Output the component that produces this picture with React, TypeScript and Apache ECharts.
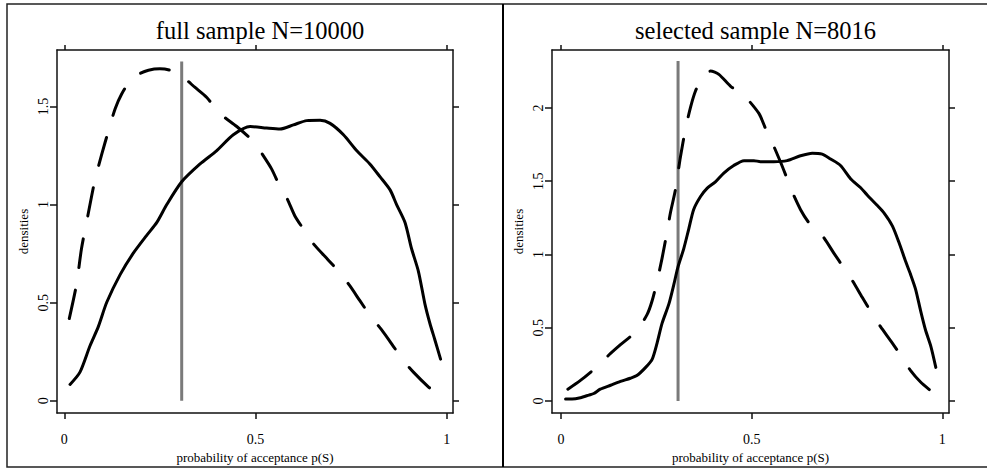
import React, { useEffect, useRef } from "react";
import * as echarts from "echarts";

const titles = ["full sample N=10000", "selected sample N=8016"];
const xTicks = [0, 0.5, 1];
const yTicksLeft = [0, 0.5, 1, 1.5];
const yTicksRight = [0, 0.5, 1, 1.5, 2];
const cutoff = 0.307;
const cutoffTop = [1.73, 2.32];

const fullSolid: number[][] = [
  [0.015, 0.083], [0.041, 0.146], [0.067, 0.279], [0.089, 0.378], [0.111, 0.502],
  [0.146, 0.643], [0.18, 0.751], [0.215, 0.842], [0.242, 0.909], [0.268, 1.0],
  [0.307, 1.116], [0.355, 1.207], [0.398, 1.274], [0.442, 1.356], [0.486, 1.398],
  [0.529, 1.39], [0.564, 1.385], [0.599, 1.406], [0.634, 1.428], [0.669, 1.43],
  [0.695, 1.414], [0.73, 1.356], [0.765, 1.274], [0.799, 1.207], [0.826, 1.141],
  [0.852, 1.075], [0.869, 1.0], [0.891, 0.909], [0.908, 0.776], [0.926, 0.66],
  [0.943, 0.494], [0.956, 0.395], [0.969, 0.311], [0.984, 0.212],
];

const fullDashed: number[][] = [
  [0.013, 0.419], [0.032, 0.594], [0.045, 0.776], [0.063, 0.958], [0.08, 1.124],
  [0.098, 1.257], [0.115, 1.373], [0.133, 1.489], [0.15, 1.564], [0.172, 1.63],
  [0.198, 1.668], [0.22, 1.685], [0.25, 1.692], [0.276, 1.685], [0.307, 1.655],
  [0.342, 1.597], [0.372, 1.547], [0.407, 1.464], [0.451, 1.398], [0.494, 1.323],
  [0.512, 1.274], [0.542, 1.182], [0.564, 1.091], [0.582, 1.033], [0.603, 0.942],
  [0.625, 0.876], [0.651, 0.801], [0.69, 0.718], [0.721, 0.652], [0.747, 0.585],
  [0.773, 0.51], [0.799, 0.436], [0.83, 0.361], [0.86, 0.279], [0.887, 0.204],
  [0.913, 0.146], [0.952, 0.071], [0.974, 0.038],
];

const selSolid: number[][] = [
  [0.012, 0.013], [0.029, 0.013], [0.051, 0.022], [0.073, 0.04], [0.086, 0.051],
  [0.103, 0.08], [0.13, 0.107], [0.156, 0.133], [0.182, 0.155], [0.199, 0.173],
  [0.222, 0.229], [0.239, 0.284], [0.252, 0.395], [0.265, 0.529], [0.283, 0.662],
  [0.296, 0.795], [0.306, 0.907], [0.322, 1.04], [0.335, 1.173], [0.348, 1.307],
  [0.366, 1.395], [0.383, 1.451], [0.405, 1.495], [0.427, 1.555], [0.453, 1.607],
  [0.48, 1.64], [0.506, 1.64], [0.523, 1.633], [0.558, 1.633], [0.593, 1.64],
  [0.628, 1.673], [0.659, 1.691], [0.685, 1.684], [0.707, 1.651], [0.733, 1.607],
  [0.76, 1.515], [0.786, 1.455], [0.803, 1.405], [0.829, 1.335], [0.847, 1.284],
  [0.869, 1.195], [0.886, 1.084], [0.904, 0.951], [0.917, 0.862], [0.93, 0.762],
  [0.943, 0.617], [0.956, 0.484], [0.97, 0.373], [0.983, 0.229],
];

const selDashed: number[][] = [
  [0.018, 0.08], [0.051, 0.14], [0.09, 0.224], [0.13, 0.324], [0.156, 0.384],
  [0.198, 0.477], [0.226, 0.591], [0.239, 0.684], [0.252, 0.817], [0.265, 0.973],
  [0.278, 1.151], [0.287, 1.284], [0.3, 1.44], [0.313, 1.662], [0.327, 1.862],
  [0.34, 2.007], [0.353, 2.117], [0.373, 2.217], [0.392, 2.251], [0.414, 2.229],
  [0.445, 2.147], [0.48, 2.084], [0.519, 1.962], [0.536, 1.862], [0.554, 1.762],
  [0.576, 1.629], [0.593, 1.517], [0.606, 1.429], [0.628, 1.307], [0.65, 1.217],
  [0.685, 1.129], [0.716, 1.007], [0.742, 0.907], [0.764, 0.822], [0.79, 0.707],
  [0.816, 0.595], [0.838, 0.507], [0.869, 0.395], [0.895, 0.295], [0.917, 0.207],
  [0.943, 0.129], [0.97, 0.069],
];

const FONT = "Liberation Serif";

export default function App() {
  const ref = useRef<HTMLDivElement>(null);
  useEffect(() => {
    document.body.style.margin = "0";
    const chart = echarts.init(ref.current!, null, { renderer: "svg" });

    const grids = [
      { left: 57, top: 50, width: 396, height: 372 },
      { left: 552, top: 50, width: 397, height: 372 },
    ];
    const xRange = [
      [-0.0191, 1.0165],
      [-0.0236, 1.0176],
    ];
    const yRange = [
      [-0.063, 1.788],
      [-0.083, 2.395],
    ];
    const yTicks = [yTicksLeft, yTicksRight];
    const lineStyleAxis = { color: "#111", width: 1.5 };

    const xAxes: any[] = [];
    const yAxes: any[] = [];
    for (let g = 0; g < 2; g++) {
      xAxes.push({
        type: "value",
        gridIndex: g,
        position: "bottom",
        min: xRange[g][0],
        max: xRange[g][1],
        splitLine: { show: false },
        axisLine: { show: true, onZero: false, lineStyle: lineStyleAxis },
        axisTick: { show: true, inside: false, length: 6, customValues: xTicks, lineStyle: lineStyleAxis },
        axisLabel: {
          customValues: xTicks,
          formatter: (v: number) => String(v),
          fontFamily: FONT,
          fontSize: 14,
          color: "#000",
          margin: 19,
        },
        name: "probability of acceptance p(S)",
        nameLocation: "middle",
        nameGap: 37,
        nameTextStyle: { fontFamily: FONT, fontSize: 13, color: "#000" },
      });
      xAxes.push({
        type: "value",
        gridIndex: g,
        position: "top",
        min: xRange[g][0],
        max: xRange[g][1],
        splitLine: { show: false },
        axisLine: { show: true, onZero: false, lineStyle: lineStyleAxis },
        axisTick: { show: true, inside: false, length: 5, customValues: xTicks, lineStyle: lineStyleAxis },
        axisLabel: { show: false },
      });
      yAxes.push({
        type: "value",
        gridIndex: g,
        position: "left",
        min: yRange[g][0],
        max: yRange[g][1],
        splitLine: { show: false },
        axisLine: { show: true, onZero: false, lineStyle: lineStyleAxis },
        axisTick: { show: true, inside: false, length: 7, customValues: yTicks[g], lineStyle: lineStyleAxis },
        axisLabel: {
          customValues: yTicks[g],
          formatter: (v: number) => String(v),
          rotate: 90,
          fontFamily: FONT,
          fontSize: 14,
          color: "#000",
          margin: 7,
        },
        name: "densities",
        nameLocation: "middle",
        nameGap: 27,
        nameTextStyle: { fontFamily: FONT, fontSize: 13, color: "#000" },
      });
      yAxes.push({
        type: "value",
        gridIndex: g,
        position: "right",
        min: yRange[g][0],
        max: yRange[g][1],
        splitLine: { show: false },
        axisLine: { show: true, onZero: false, lineStyle: lineStyleAxis },
        axisTick: { show: true, inside: false, length: 6, customValues: yTicks[g], lineStyle: lineStyleAxis },
        axisLabel: { show: false },
      });
    }

    const solidStyle = { color: "#000", width: 3, cap: "round", join: "round" };
    const dashedStyle = { color: "#000", width: 3, type: [29, 23], cap: "round", join: "round" };
    const seriesData = [
      [fullSolid, fullDashed],
      [selSolid, selDashed],
    ];
    const series: any[] = [];
    for (let g = 0; g < 2; g++) {
      series.push({
        type: "line",
        xAxisIndex: g * 2,
        yAxisIndex: g * 2,
        data: [[cutoff, 0], [cutoff, cutoffTop[g]]],
        showSymbol: false,
        lineStyle: { color: "#7a7a7a", width: 3 },
        z: 2,
      });
      series.push({
        type: "line",
        xAxisIndex: g * 2,
        yAxisIndex: g * 2,
        data: seriesData[g][0],
        showSymbol: false,
        smooth: 0.25,
        lineStyle: solidStyle,
        z: 3,
      });
      series.push({
        type: "line",
        xAxisIndex: g * 2,
        yAxisIndex: g * 2,
        data: seriesData[g][1],
        showSymbol: false,
        smooth: 0.25,
        lineStyle: dashedStyle,
        z: 3,
      });
    }

    chart.setOption({
      animation: false,
      backgroundColor: "#fff",
      title: [0, 1].map((g) => ({
        text: titles[g],
        left: grids[g].left + grids[g].width / 2,
        top: 13,
        textAlign: "center",
        textStyle: { fontFamily: FONT, fontSize: 24.5, fontWeight: "normal", color: "#000" },
      })),
      grid: grids.map((gr) => ({ ...gr, containLabel: false })),
      xAxis: xAxes,
      yAxis: yAxes,
      series,
      graphic: [
        {
          type: "rect",
          shape: { x: 7, y: 4, width: 990, height: 463 },
          style: { fill: "none", stroke: "#222", lineWidth: 1.5 },
          silent: true,
        },
        {
          type: "line",
          shape: { x1: 503, y1: 4, x2: 503, y2: 467 },
          style: { stroke: "#000", lineWidth: 2 },
          silent: true,
        },
      ],
    });
    return () => chart.dispose();
  }, []);
  return <div ref={ref} style={{ width: 987, height: 469 }} />;
}
